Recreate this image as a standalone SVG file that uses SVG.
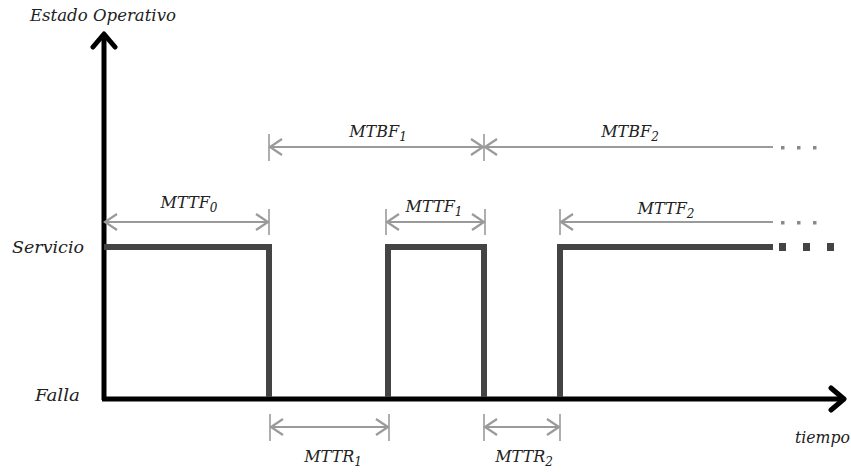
<svg xmlns="http://www.w3.org/2000/svg" width="851" height="472" viewBox="0 0 851 472">
<style>
.lbl{font-family:"DejaVu Serif","Liberation Serif",serif;font-style:italic;font-size:16px;fill:#222}
.sub{font-size:12px}
.dim{stroke:#9a9a9a;stroke-width:2.2;fill:none}
.tick{stroke:#9a9a9a;stroke-width:1.6}
.sig{stroke:#444;stroke-width:6;fill:none;stroke-linejoin:miter}
.axis{stroke:#000;stroke-width:5;fill:none}
</style>
<defs>
<marker id="ah" markerWidth="16" markerHeight="20" refX="14" refY="10" orient="auto-start-reverse" markerUnits="userSpaceOnUse">
<path d="M2,2 L14,10 L2,18" fill="none" stroke="#9a9a9a" stroke-width="2.2"/>
</marker>
<marker id="axh" markerWidth="20" markerHeight="28" refX="16" refY="14" orient="auto" markerUnits="userSpaceOnUse">
<path d="M3,3 L16,14 L3,25" fill="none" stroke="#000" stroke-width="5" stroke-linecap="round" stroke-linejoin="round"/>
</marker>
</defs>
<g id="axes">
<line class="axis" x1="104" y1="400" x2="104" y2="34" marker-end="url(#axh)"/>
<line class="axis" x1="102" y1="399" x2="844" y2="399" marker-end="url(#axh)"/>
<text class="lbl" x="30" y="21" textLength="146" lengthAdjust="spacingAndGlyphs">Estado Operativo</text>
<text class="lbl" x="12" y="253" textLength="72" lengthAdjust="spacingAndGlyphs">Servicio</text>
<text class="lbl" x="35" y="401" textLength="45" lengthAdjust="spacingAndGlyphs">Falla</text>
<text class="lbl" x="795" y="443" textLength="55" lengthAdjust="spacingAndGlyphs">tiempo</text>
</g>
<g id="signal">
<polyline class="sig" points="104,247 269,247 269,397"/>
<polyline class="sig" points="388,397 388,247 484,247 484,397"/>
<polyline class="sig" points="560,397 560,247 773,247"/>
<rect x="779" y="243" width="7" height="8" fill="#444"/>
<rect x="803" y="243" width="7" height="8" fill="#444"/>
<rect x="827" y="243" width="7" height="8" fill="#444"/>
</g>
<g id="connectors">
<line class="tick" x1="269" y1="134" x2="269" y2="161"/>
<line class="tick" x1="484" y1="134" x2="484" y2="161"/>
<line class="dim" x1="270" y1="147" x2="483" y2="147" marker-start="url(#ah)" marker-end="url(#ah)"/>
<line class="dim" x1="485" y1="147" x2="773" y2="147" marker-start="url(#ah)"/>
<line class="tick" x1="269" y1="209" x2="269" y2="235"/>
<line class="dim" x1="105" y1="222" x2="268" y2="222" marker-start="url(#ah)" marker-end="url(#ah)"/>
<line class="tick" x1="386" y1="209" x2="386" y2="235"/>
<line class="tick" x1="485" y1="209" x2="485" y2="235"/>
<line class="dim" x1="387" y1="222" x2="484" y2="222" marker-start="url(#ah)" marker-end="url(#ah)"/>
<line class="tick" x1="560" y1="209" x2="560" y2="235"/>
<line class="dim" x1="561" y1="222" x2="773" y2="222" marker-start="url(#ah)"/>
<line class="tick" x1="270" y1="414" x2="270" y2="441"/>
<line class="tick" x1="389" y1="414" x2="389" y2="441"/>
<line class="dim" x1="271" y1="427" x2="388" y2="427" marker-start="url(#ah)" marker-end="url(#ah)"/>
<line class="tick" x1="484" y1="414" x2="484" y2="441"/>
<line class="tick" x1="560" y1="414" x2="560" y2="441"/>
<line class="dim" x1="485" y1="427" x2="559" y2="427" marker-start="url(#ah)" marker-end="url(#ah)"/>
<g fill="#8a8a8a">
<rect x="781" y="146" width="3.5" height="3.5"/><rect x="797" y="146" width="3.5" height="3.5"/><rect x="813" y="146" width="3.5" height="3.5"/>
<rect x="781" y="221" width="3.5" height="3.5"/><rect x="797" y="221" width="3.5" height="3.5"/><rect x="813" y="221" width="3.5" height="3.5"/>
</g>
</g>
<g id="labels">
<text class="lbl" x="378" y="137" text-anchor="middle">MTBF<tspan class="sub" dy="4">1</tspan></text>
<text class="lbl" x="630" y="137" text-anchor="middle">MTBF<tspan class="sub" dy="4">2</tspan></text>
<text class="lbl" x="189" y="208" text-anchor="middle">MTTF<tspan class="sub" dy="4">0</tspan></text>
<text class="lbl" x="434" y="212" text-anchor="middle">MTTF<tspan class="sub" dy="4">1</tspan></text>
<text class="lbl" x="666" y="214" text-anchor="middle">MTTF<tspan class="sub" dy="4">2</tspan></text>
<text class="lbl" x="333" y="462" text-anchor="middle">MTTR<tspan class="sub" dy="4">1</tspan></text>
<text class="lbl" x="524" y="462" text-anchor="middle">MTTR<tspan class="sub" dy="4">2</tspan></text>
</g>
</svg>
